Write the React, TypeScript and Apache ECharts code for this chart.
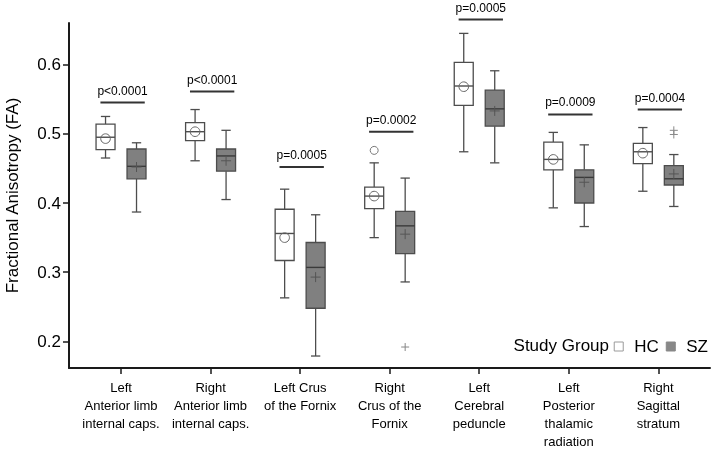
import React, { useEffect, useRef } from 'react';
import * as echarts from 'echarts';

const categories = [
  'Left\nAnterior limb\ninternal caps.',
  'Right\nAnterior limb\ninternal caps.',
  'Left Crus\nof the Fornix',
  'Right\nCrus of the\nFornix',
  'Left\nCerebral\npeduncle',
  'Left\nPosterior\nthalamic\nradiation',
  'Right\nSagittal\nstratum',
];

// [low whisker, Q1, median, Q3, high whisker]
const hcBox = [
  [0.465, 0.477, 0.495, 0.514, 0.525],
  [0.461, 0.49, 0.503, 0.516, 0.535],
  [0.263, 0.317, 0.356, 0.391, 0.42],
  [0.35, 0.392, 0.41, 0.423, 0.458],
  [0.474, 0.541, 0.569, 0.603, 0.645],
  [0.393, 0.448, 0.463, 0.488, 0.502],
  [0.417, 0.457, 0.474, 0.486, 0.509],
];
const hcMean = [0.493, 0.503, 0.35, 0.41, 0.568, 0.463, 0.472];

const szBox = [
  [0.387, 0.435, 0.453, 0.478, 0.487],
  [0.405, 0.446, 0.468, 0.478, 0.505],
  [0.179, 0.248, 0.307, 0.343, 0.383],
  [0.286, 0.327, 0.367, 0.388, 0.436],
  [0.458, 0.511, 0.536, 0.563, 0.591],
  [0.366, 0.4, 0.437, 0.448, 0.484],
  [0.395, 0.426, 0.435, 0.454, 0.47],
];
const szMean = [0.452, 0.461, 0.293, 0.355, 0.533, 0.43, 0.442];

// [category index, value]
const hcOutliers = [[3, 0.476]];
const szOutliers = [[3, 0.192], [6, 0.505], [6, 0.499]];

const pLabels = ['p<0.0001', 'p<0.0001', 'p=0.0005', 'p=0.0002', 'p=0.0005', 'p=0.0009', 'p=0.0004'];
const pLineY = [0.545, 0.561, 0.452, 0.503, 0.665, 0.528, 0.535];

const yTicks = [0.2, 0.3, 0.4, 0.5, 0.6];
const xTicks = categories.map((_, i) => i);

const FONT = '"Liberation Sans", Arial, Helvetica, sans-serif';
const GROUP_OFFSET = 0.173;
const BOX_W = 0.212;
const CAP_W = 0.104;
const EDGE = '#4d4d4d';

function boxRenderer(offset: number, group: 'HC' | 'SZ') {
  return (params: any, api: any) => {
    const x = api.value(0) + offset;
    const cx = api.coord([x, api.value(1)])[0];
    const yLow = api.coord([x, api.value(1)])[1];
    const yQ1 = api.coord([x, api.value(2)])[1];
    const yMed = api.coord([x, api.value(3)])[1];
    const yQ3 = api.coord([x, api.value(4)])[1];
    const yHigh = api.coord([x, api.value(5)])[1];
    const yMean = api.coord([x, api.value(6)])[1];
    const halfW = api.size([BOX_W, 0])[0] / 2;
    const capHalf = api.size([CAP_W, 0])[0] / 2;
    const lw = 1.3;
    const line = (x1: number, y1: number, x2: number, y2: number, stroke = EDGE, w = lw) => ({
      type: 'line',
      shape: { x1, y1, x2, y2 },
      style: { stroke, lineWidth: w },
    });
    const children: any[] = [
      line(cx, yHigh, cx, yQ3),
      line(cx - capHalf, yHigh, cx + capHalf, yHigh),
      line(cx, yQ1, cx, yLow),
      line(cx - capHalf, yLow, cx + capHalf, yLow),
      {
        type: 'rect',
        shape: { x: cx - halfW, y: yQ3, width: halfW * 2, height: yQ1 - yQ3 },
        style: { fill: group === 'HC' ? '#ffffff' : '#808080', stroke: EDGE, lineWidth: lw },
      },
      line(cx - halfW, yMed, cx + halfW, yMed, group === 'HC' ? EDGE : '#3a3a3a', 1.4),
    ];
    if (group === 'HC') {
      children.push({
        type: 'circle',
        shape: { cx, cy: yMean, r: 4.8 },
        style: { fill: 'none', stroke: '#666', lineWidth: 1 },
      });
    } else {
      children.push(line(cx - 5, yMean, cx + 5, yMean, '#555', 1));
      children.push(line(cx, yMean - 5, cx, yMean + 5, '#555', 1));
    }
    return { type: 'group', children };
  };
}

function outlierRenderer(offset: number, group: 'HC' | 'SZ') {
  return (params: any, api: any) => {
    const [px, py] = api.coord([api.value(0) + offset, api.value(1)]);
    if (group === 'HC') {
      return {
        type: 'circle',
        shape: { cx: px, cy: py, r: 4 },
        style: { fill: 'none', stroke: '#777', lineWidth: 1 },
      };
    }
    return {
      type: 'group',
      children: [
        { type: 'line', shape: { x1: px - 4, y1: py, x2: px + 4, y2: py }, style: { stroke: '#888', lineWidth: 1 } },
        { type: 'line', shape: { x1: px, y1: py - 4, x2: px, y2: py + 4 }, style: { stroke: '#888', lineWidth: 1 } },
      ],
    };
  };
}

function pRenderer(params: any, api: any) {
  const i = api.value(0);
  const left = api.coord([i - 0.23, api.value(1)]);
  const right = api.coord([i + 0.265, api.value(1)]);
  const mid = (left[0] + right[0]) / 2;
  return {
    type: 'group',
    children: [
      {
        type: 'line',
        shape: { x1: left[0], y1: left[1], x2: right[0], y2: right[1] },
        style: { stroke: '#333', lineWidth: 2 },
      },
      {
        type: 'text',
        x: mid,
        y: left[1] - 6,
        style: {
          text: pLabels[params.dataIndex],
          fill: '#000',
          font: `12px ${FONT}`,
          textAlign: 'center',
          textVerticalAlign: 'bottom',
        },
      },
    ],
  };
}

export default function App() {
  const ref = useRef<HTMLDivElement>(null);
  useEffect(() => {
    if (!ref.current) return;
    const chart = echarts.init(ref.current, null, { renderer: 'svg' });
    const hcData = categories.map((_, i) => [i, ...hcBox[i], hcMean[i]]);
    const szData = categories.map((_, i) => [i, ...szBox[i], szMean[i]]);
    const pData = categories.map((_, i) => [i, pLineY[i]]);
    chart.setOption({
      animation: false,
      textStyle: { fontFamily: FONT },
      grid: { left: 69, right: 3, top: 23, bottom: 86, containLabel: false, outerBoundsMode: 'none' },
      legend: {
        data: [
          { name: 'HC', itemStyle: { color: '#ffffff', borderColor: '#9a9a9a', borderWidth: 1 } },
          { name: 'SZ', itemStyle: { color: '#888888', borderColor: '#888888', borderWidth: 1 } },
        ],
        right: 0,
        top: 333,
        icon: 'rect',
        itemWidth: 9,
        itemHeight: 9,
        itemGap: 7,
        textStyle: { fontSize: 17, color: '#000', fontFamily: FONT, padding: [0, 0, 0, 6] },
      },
      graphic: [
        {
          type: 'text',
          x: 609,
          y: 345,
          style: {
            text: 'Study Group',
            font: `17px ${FONT}`,
            fill: '#000',
            textAlign: 'right',
            textVerticalAlign: 'middle',
          },
        },
      ],
      xAxis: {
        type: 'value',
        min: -0.581,
        max: 6.577,
        splitLine: { show: false },
        axisLine: { show: true, onZero: false, lineStyle: { color: '#1a1a1a', width: 2 } },
        axisTick: { show: true, customValues: xTicks, length: 6, lineStyle: { color: '#1a1a1a', width: 1.5 } },
        axisLabel: {
          customValues: xTicks,
          formatter: (v: number) => categories[Math.round(v)] ?? '',
          fontSize: 13,
          lineHeight: 18,
          color: '#000',
          margin: 10,
          align: 'center',
        },
      },
      yAxis: {
        type: 'value',
        min: 0.1617,
        max: 0.66,
        name: 'Fractional Anisotropy (FA)',
        nameLocation: 'middle',
        nameGap: 48,
        nameTextStyle: { fontSize: 17, color: '#000', fontFamily: FONT },
        splitLine: { show: false },
        axisLine: { show: true, onZero: false, lineStyle: { color: '#1a1a1a', width: 2 } },
        axisTick: { show: true, customValues: yTicks, length: 6, lineStyle: { color: '#1a1a1a', width: 1.5 } },
        axisLabel: {
          customValues: yTicks,
          formatter: (v: number) => v.toFixed(1),
          fontSize: 17,
          color: '#000',
          margin: 8,
        },
      },
      series: [
        {
          name: 'HC',
          type: 'custom',
          renderItem: boxRenderer(-GROUP_OFFSET, 'HC'),
          itemStyle: { color: '#ffffff', borderColor: '#9a9a9a' },
          encode: { x: 0, y: [1, 2, 3, 4, 5] },
          data: hcData,
          z: 2,
        },
        {
          name: 'SZ',
          type: 'custom',
          renderItem: boxRenderer(GROUP_OFFSET, 'SZ'),
          itemStyle: { color: '#888888' },
          encode: { x: 0, y: [1, 2, 3, 4, 5] },
          data: szData,
          z: 2,
        },
        {
          name: 'HC outliers',
          type: 'custom',
          renderItem: outlierRenderer(-GROUP_OFFSET, 'HC'),
          encode: { x: 0, y: 1 },
          data: hcOutliers,
        },
        {
          name: 'SZ outliers',
          type: 'custom',
          renderItem: outlierRenderer(GROUP_OFFSET, 'SZ'),
          encode: { x: 0, y: 1 },
          data: szOutliers,
        },
        {
          name: 'p values',
          type: 'custom',
          renderItem: pRenderer,
          encode: { x: 0, y: 1 },
          data: pData,
          clip: false,
        },
      ],
    });
    return () => chart.dispose();
  }, []);
  return <div ref={ref} style={{ position: 'fixed', left: 0, top: 0, width: 713, height: 454 }} />;
}
